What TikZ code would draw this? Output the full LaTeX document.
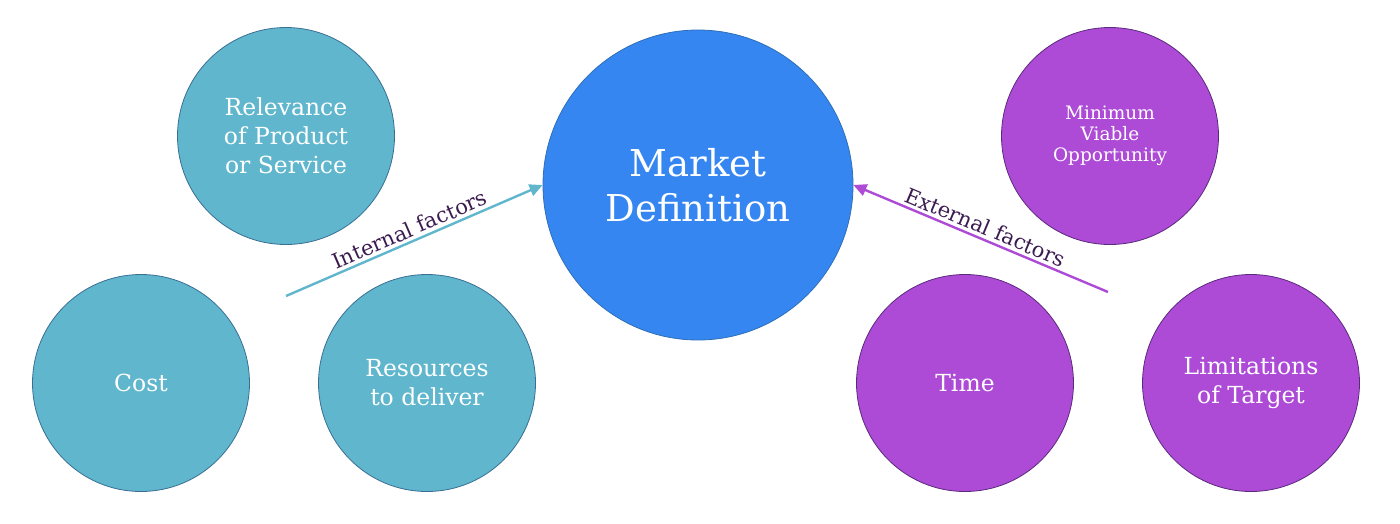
\documentclass[tikz,border=0pt]{standalone}
\usepackage{fontspec}
\setmainfont{DejaVu Serif}
\usetikzlibrary{arrows.meta}
\definecolor{tealfill}{HTML}{5FB6CD}
\definecolor{tealrim}{HTML}{3A6F95}
\definecolor{bluefill}{HTML}{3686F1}
\definecolor{bluerim}{HTML}{2E6FB8}
\definecolor{purplefill}{HTML}{AD4BD7}
\definecolor{purplerim}{HTML}{5B2A7C}
\definecolor{labelink}{HTML}{3B1B50}

\begin{document}
\begin{tikzpicture}[x=1pt,y=-1pt,
    bubble/.style={circle,line width=0.8pt,inner sep=0pt,minimum size=217pt,
      align=center,text=white,font=\fontsize{23.5}{29}\selectfont},
    inbubble/.style={bubble,draw=tealrim,fill=tealfill},
    exbubble/.style={bubble,draw=purplerim,fill=purplefill},
    factor/.style={midway,above,sloped,text=labelink,inner sep=3pt,
      font=\fontsize{21}{24}\selectfont}]
  \useasboundingbox (0,0) rectangle (1400,523);
  % centre
  \node[bubble,draw=bluerim,fill=bluefill,minimum size=310pt,
    font=\fontsize{37}{45}\selectfont] (market) at (698,185) {Market\\Definition};
  % internal side
  \node[inbubble] (relevance) at (286,136) {Relevance\\of Product\\or Service};
  \node[inbubble] (cost) at (141,383) {Cost};
  \node[inbubble] (resources) at (427,383) {Resources\\to deliver};
  % external side
  \node[exbubble,font=\fontsize{18.5}{21}\selectfont] (mvo) at (1110,136) {Minimum\\Viable\\Opportunity};
  \node[exbubble] (time) at (965,383) {Time};
  \node[exbubble] (limits) at (1251,383) {Limitations\\of Target};
  % arrows
  \coordinate (inbase) at (286,296);
  \coordinate (exbase) at (1108,292);
  \draw[-{Triangle[length=13pt,width=12pt]},tealfill,line width=2.4pt]
    (inbase) -- (market.west) node[factor] {Internal factors};
  \draw[{Triangle[length=13pt,width=12pt]}-,purplefill,line width=2.4pt]
    (market.east) -- (exbase) node[factor] {External factors};
\end{tikzpicture}
\end{document}
